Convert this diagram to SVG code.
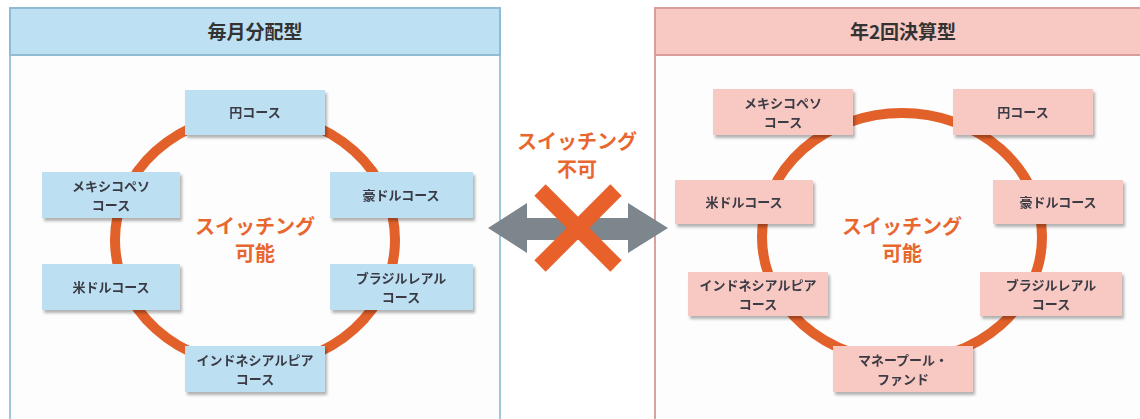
<svg xmlns="http://www.w3.org/2000/svg" width="1140" height="419" viewBox="0 0 1140 419">
<defs>
<filter id="sh" x="-10%" y="-10%" width="125%" height="140%">
<feDropShadow dx="2" dy="3" stdDeviation="1.6" flood-color="#000" flood-opacity="0.3"/>
</filter>
<style>
text{font-family:"Noto Sans CJK JP","Noto Sans",sans-serif;text-anchor:middle}
.bl{fill:#bcdff2}
.pk{fill:#f8c8c3}
.bt{font-size:13px;font-weight:bold;fill:#3a3a44}
.ht{font-size:19px;font-weight:bold;fill:#333}
.ot{font-size:20px;font-weight:bold;fill:#e8672f}
.ring{fill:none;stroke:#e2602a;stroke-width:10}
</style>
</defs>
<rect width="1140" height="419" fill="#fff"/>
<g id="panel-left">
<rect x="10" y="8" width="490" height="420" fill="#fdfdfd" stroke="#9ec7dc" stroke-width="2"/>
<rect x="10" y="8" width="490" height="47" fill="#bde0f2" stroke="#8fbcd4" stroke-width="2"/>
<text class="ht" x="255" y="39">毎月分配型</text>
</g>
<g id="panel-right">
<rect x="655" y="8" width="495" height="420" fill="#fdfdfd" stroke="#d8a39f" stroke-width="2"/>
<rect x="655" y="8" width="495" height="47" fill="#f8c8c3" stroke="#d99e99" stroke-width="2"/>
<text class="ht" x="903" y="39">年2回決算型</text>
</g>
<g id="connectors">
<ellipse class="ring" cx="255" cy="240" rx="140" ry="126"/>
<ellipse class="ring" cx="902" cy="237" rx="140" ry="124"/>
<polygon points="488,228 527,203 527,218 628,218 628,203 668,228 628,253 628,240 527,240 527,253" fill="#7c868c"/>
<path d="M540 190 L616 266 M616 190 L540 266" stroke="#e8602a" stroke-width="16" fill="none"/>
</g>
<g id="label-left"><text class="ot" x="255" y="234">スイッチング</text><text class="ot" x="255" y="261">可能</text></g>
<g id="label-right"><text class="ot" x="902" y="234">スイッチング</text><text class="ot" x="902" y="261">可能</text></g>
<g id="label-mid"><text class="ot" x="577" y="149">スイッチング</text><text class="ot" x="577" y="177">不可</text></g>
<g id="l-yen" filter="url(#sh)"><rect class="bl" x="185" y="90" width="140" height="45"/><text class="bt" x="255" y="117">円コース</text></g>
<g id="l-mxn" filter="url(#sh)"><rect class="bl" x="42" y="172" width="138" height="46"/><text class="bt" x="111" y="191">メキシコペソ</text><text class="bt" x="111" y="210">コース</text></g>
<g id="l-aud" filter="url(#sh)"><rect class="bl" x="330" y="172" width="143" height="46"/><text class="bt" x="401" y="200">豪ドルコース</text></g>
<g id="l-usd" filter="url(#sh)"><rect class="bl" x="42" y="264" width="138" height="46"/><text class="bt" x="111" y="292">米ドルコース</text></g>
<g id="l-brl" filter="url(#sh)"><rect class="bl" x="330" y="264" width="143" height="46"/><text class="bt" x="401" y="283">ブラジルレアル</text><text class="bt" x="401" y="302">コース</text></g>
<g id="l-idr" filter="url(#sh)"><rect class="bl" x="185" y="346" width="140" height="46"/><text class="bt" x="255" y="365">インドネシアルピア</text><text class="bt" x="255" y="384">コース</text></g>
<g id="r-mxn" filter="url(#sh)"><rect class="pk" x="713" y="89" width="140" height="46"/><text class="bt" x="783" y="108">メキシコペソ</text><text class="bt" x="783" y="127">コース</text></g>
<g id="r-yen" filter="url(#sh)"><rect class="pk" x="953" y="89" width="140" height="46"/><text class="bt" x="1023" y="117">円コース</text></g>
<g id="r-usd" filter="url(#sh)"><rect class="pk" x="675" y="180" width="138" height="44"/><text class="bt" x="744" y="207">米ドルコース</text></g>
<g id="r-aud" filter="url(#sh)"><rect class="pk" x="993" y="180" width="130" height="44"/><text class="bt" x="1058" y="207">豪ドルコース</text></g>
<g id="r-idr" filter="url(#sh)"><rect class="pk" x="688" y="272" width="140" height="44"/><text class="bt" x="758" y="290">インドネシアルピア</text><text class="bt" x="758" y="309">コース</text></g>
<g id="r-brl" filter="url(#sh)"><rect class="pk" x="980" y="272" width="142" height="44"/><text class="bt" x="1051" y="290">ブラジルレアル</text><text class="bt" x="1051" y="309">コース</text></g>
<g id="r-mmf" filter="url(#sh)"><rect class="pk" x="833" y="346" width="140" height="46"/><text class="bt" x="903" y="365">マネープール・</text><text class="bt" x="903" y="384">ファンド</text></g>
</svg>
